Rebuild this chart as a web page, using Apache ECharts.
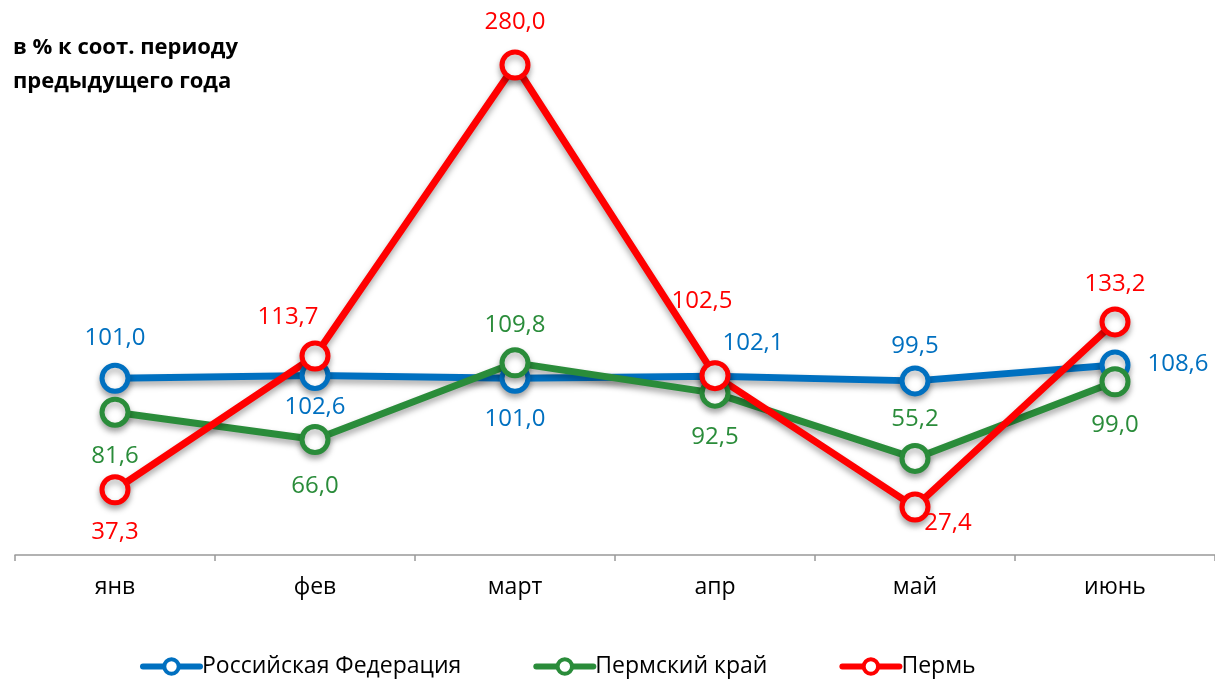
<!DOCTYPE html>
<html>
<head>
<meta charset="utf-8">
<script src="https://cdn.jsdelivr.net/npm/echarts@6/dist/echarts.min.js"></script>
<style>
  html, body { margin: 0; padding: 0; background: #fff; }
  #chart { width: 1215px; height: 684px; }
</style>
</head>
<body>
<div id="chart"></div>
<script>
// данные
const months = ['янв', 'фев', 'март', 'апр', 'май', 'июнь']
const rf = [101.0, 102.6, 101.0, 102.1, 99.5, 108.6]
const permKrai = [81.6, 66.0, 109.8, 92.5, 55.2, 99.0]
const perm = [37.3, 113.7, 280.0, 102.5, 27.4, 133.2]

// смещения подписей от точек
const rfOffsets = [[0, -40], [0, 32], [0, 41], [38, -33], [0, -35], [63, -1]]
const krayOffsets = [[0, 44], [0, 47], [0, -38], [0, 44], [0, -39], [0, 43]]
const permOffsets = [[0, 42], [-27, -39], [0, -43], [-13, -74], [33, 16], [0, -38]]

const fontFamily = '"Open Sans", "Noto Sans", sans-serif'

function makeSeries(name, values, offsets, color) {
    return {
        name: name,
        type: 'line',
        data: values.map((v, i) => ({
            value: v,
            label: { offset: offsets[i] }
        })),
        symbol: 'circle',
        symbolSize: 26,
        lineStyle: {
            color: color,
            width: 7,
            shadowColor: 'rgba(0,0,0,0.35)',
            shadowBlur: 6,
            shadowOffsetY: 4
        },
        itemStyle: {
            color: '#fff',
            borderColor: color,
            borderWidth: 5,
            shadowColor: 'rgba(0,0,0,0.3)',
            shadowBlur: 6,
            shadowOffsetY: 4
        },
        label: {
            show: true,
            position: 'inside',
            color: color,
            fontSize: 24,
            fontFamily: fontFamily,
            formatter: p => p.value.toFixed(1).replace('.', ',')
        },
        emphasis: { disabled: true },
        animation: false
    }
}

const option = {
    backgroundColor: '#fff',
    title: {
        text: 'в % к соот. периоду\nпредыдущего года',
        left: 8,
        top: 26,
        textStyle: {
            fontSize: 22,
            fontWeight: 'bold',
            fontFamily: fontFamily,
            color: '#000',
            lineHeight: 34
        }
    },
    legend: {
        left: 135,
        top: 650,
        itemWidth: 57,
        itemHeight: 18,
        itemGap: 72,
        itemStyle: { borderWidth: 4 },
        lineStyle: { width: 6, cap: 'round' },
        textStyle: { fontSize: 23, fontFamily: fontFamily, color: '#000', padding: [0, 0, 0, -3] },
        data: ['Российская Федерация', 'Пермский край', 'Пермь']
    },
    grid: {
        left: 15,
        top: 30,
        right: -6,
        bottom: 129
    },
    xAxis: {
        type: 'category',
        data: months,
        boundaryGap: true,
        axisLine: { lineStyle: { color: '#999', width: 1.5 } },
        axisTick: { show: true, length: 6, lineStyle: { color: '#999', width: 1.5 } },
        axisLabel: { fontSize: 23, fontFamily: fontFamily, color: '#000', margin: 21 }
    },
    yAxis: {
        type: 'value',
        min: 0,
        max: 300,
        show: false,
        splitLine: { show: false }
    },
    series: [
        makeSeries('Российская Федерация', rf, rfOffsets, '#0070C0'),
        makeSeries('Пермский край', permKrai, krayOffsets, '#2A8C3A'),
        makeSeries('Пермь', perm, permOffsets, '#FF0000')
    ]
}

const chart = echarts.init(document.getElementById('chart'))
chart.setOption(option)
</script>
</body>
</html>
